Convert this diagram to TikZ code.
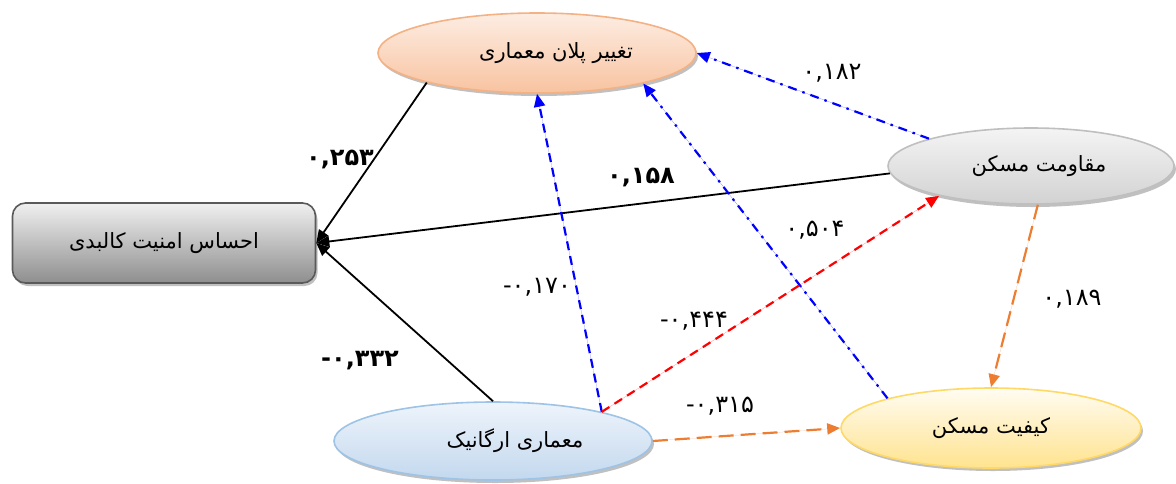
\documentclass[tikz,border=0pt]{standalone}
\usepackage{fontspec}
\newfontfamily\fa[Script=Arabic]{DejaVu Sans}
\newfontfamily\fanum{DejaVu Sans}
\TeXXeTstate=1
\usetikzlibrary{arrows.meta,shapes.geometric,shadows}
\definecolor{peachT}{HTML}{FDEDE3}
\definecolor{peachB}{HTML}{F8C3A0}
\definecolor{peachD}{HTML}{F4B183}
\definecolor{grayT}{HTML}{F4F4F4}
\definecolor{grayB}{HTML}{D2D2D2}
\definecolor{grayD}{HTML}{BFBFBF}
\definecolor{boxT}{HTML}{F0F0F0}
\definecolor{boxB}{HTML}{8E8E8E}
\definecolor{boxD}{HTML}{5A5A5A}
\definecolor{blueT}{HTML}{EEF4FB}
\definecolor{blueB}{HTML}{C3D8EE}
\definecolor{blueD}{HTML}{9DC3E6}
\definecolor{yelT}{HTML}{FFFCF2}
\definecolor{yelB}{HTML}{FFE38F}
\definecolor{yelD}{HTML}{FFD966}
\definecolor{arrBlue}{HTML}{0000FF}
\definecolor{arrRed}{HTML}{FF0000}
\definecolor{arrOrange}{HTML}{ED7D31}
\begin{document}
\begin{tikzpicture}[x=1pt,y=-1pt,
  shape font/.style={font=\fa\fontsize{21}{24}\selectfont},
  ell/.style={ellipse, draw, line width=1.6pt, inner sep=0pt, shape font,
    drop shadow={shadow xshift=2pt, shadow yshift=-3pt, opacity=0.45, fill=black!55}},
  lbl/.style={font=\fanum\fontsize{24}{26}\selectfont, inner sep=0pt},
  blbl/.style={font=\fanum\bfseries\fontsize{24}{26}\selectfont, inner sep=0pt},
  tip/.style={-{Triangle[length=13pt,width=11pt]}},
  solidarr/.style={tip, draw=black, line width=1.8pt},
  bluedash/.style={tip, draw=arrBlue, fill=arrBlue, line width=2.2pt, dash pattern=on 9pt off 6pt},
  bluedot/.style={tip, draw=arrBlue, fill=arrBlue, line width=2.2pt, dash pattern=on 9pt off 6pt on 2.5pt off 6pt},
  reddash/.style={tip, draw=arrRed, fill=arrRed, line width=2.2pt, dash pattern=on 9pt off 6pt},
  orangedash/.style={tip, draw=arrOrange, fill=arrOrange, line width=2.2pt, dash pattern=on 15pt off 7pt}
]
\useasboundingbox (0,0) rectangle (1176,483);

\node[ell, minimum width=318pt, minimum height=80pt, top color=peachT, bottom color=peachB, draw=peachD]
  (top) at (537,53) {\hspace*{38pt}\beginR تغییر پلان معماری\endR};
\node[rectangle, rounded corners=13pt, draw=boxD, line width=1.6pt, minimum width=303pt, minimum height=80pt,
  top color=boxT, bottom color=boxB, shape font,
  drop shadow={shadow xshift=2pt, shadow yshift=-3pt, opacity=0.45, fill=black!55}]
  (box) at (164,243) {\beginR احساس امنیت کالبدی\endR};
\node[ell, minimum width=286pt, minimum height=76pt, top color=grayT, bottom color=grayB, draw=grayD]
  (res) at (1031,166) {\hspace*{16pt}\beginR مقاومت مسکن\endR};
\node[ell, minimum width=318pt, minimum height=78pt, top color=blueT, bottom color=blueB, draw=blueD]
  (org) at (493,441) {\hspace*{44pt}\beginR معماری ارگانیک\endR};
\node[ell, minimum width=300pt, minimum height=80pt, top color=yelT, bottom color=yelB, draw=yelD]
  (qual) at (991,428) {\beginR کیفیت مسکن\endR};

% black solid arrows into box
\draw[solidarr] (top.195) -- (box.east);
\draw[solidarr] (res.183) -- (box.east);
\draw[solidarr] (org.north) -- (box.east);

% blue arrows to top
\draw[bluedot] (res.165) -- (top.east);
\draw[bluedash] (org.15) -- (top.south);
\draw[bluedot] (qual.164) -- (top.344);

% red
\draw[reddash] (org.15) -- (res.198);

% orange
\draw[orangedash] (org.east) -- (qual.west);
\draw[orangedash] (res.280) -- (qual.north);

% labels
\node[blbl] (l1) at (340,159) {۰,۲۵۳};
\node[blbl] (l2) at (641,177) {۰,۱۵۸};
\node[blbl] (l3) at (360,361) {-۰,۳۳۲};
\node[lbl] (l4) at (720,406) {-۰,۳۱۵};
\node[lbl] (l5) at (537,287) {-۰,۱۷۰};
\node[lbl] (l6) at (815,230) {۰,۵۰۴};
\node[lbl] (l7) at (694,321) {-۰,۴۴۴};
\node[lbl] (l8) at (832,73) {۰,۱۸۲};
\node[lbl] (l9) at (1072,299) {۰,۱۸۹};
\end{tikzpicture}
\end{document}
